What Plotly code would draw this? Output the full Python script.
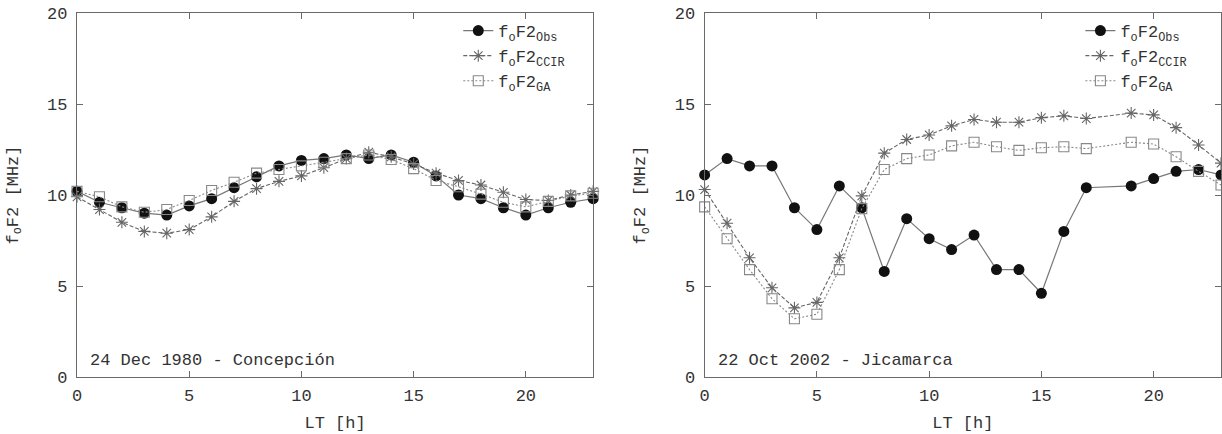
import plotly.graph_objects as go

hours = list(range(24))

# Left panel: 24 Dec 1980 - Concepción
left_obs = [10.2, 9.6, 9.3, 9.0, 8.9, 9.4, 9.8, 10.4, 11.0, 11.6, 11.9, 12.0,
            12.2, 12.0, 12.2, 11.8, 11.05, 10.0, 9.8, 9.3, 8.9, 9.3, 9.6, 9.8]
left_ccir = [9.9, 9.2, 8.5, 8.0, 7.9, 8.1, 8.8, 9.65, 10.35, 10.75, 11.05, 11.5,
             12.0, 12.35, 12.1, 11.7, 11.2, 10.8, 10.55, 10.15, 9.75, 9.7, 10.0, 10.2]
left_ga = [10.2, 9.9, 9.35, 9.05, 9.2, 9.7, 10.25, 10.7, 11.2, 11.4, 11.6, 11.8,
           12.0, 12.2, 11.95, 11.45, 10.8, 10.45, 10.05, 9.6, 9.35, 9.65, 9.95, 10.1]

# Right panel: 22 Oct 2002 - Jicamarca (no value at 18 LT)
right_obs = [11.1, 12.0, 11.6, 11.6, 9.3, 8.1, 10.5, 9.3, 5.8, 8.7, 7.6, 7.0,
             7.8, 5.9, 5.9, 4.6, 8.0, 10.4, None, 10.5, 10.9, 11.3, 11.4, 11.1]
right_ccir = [10.3, 8.45, 6.55, 4.9, 3.8, 4.1, 6.55, 9.95, 12.3, 13.05, 13.3, 13.8,
              14.15, 14.0, 14.0, 14.25, 14.35, 14.2, None, 14.5, 14.4, 13.7, 12.75, 11.75]
right_ga = [9.35, 7.6, 5.9, 4.3, 3.2, 3.45, 5.9, 9.25, 11.4, 12.0, 12.2, 12.7,
            12.9, 12.65, 12.45, 12.6, 12.65, 12.55, None, 12.9, 12.8, 12.1, 11.3, 10.55]

series_names = ["f<sub>o</sub>F2<sub>Obs</sub>",
                "f<sub>o</sub>F2<sub>CCIR</sub>",
                "f<sub>o</sub>F2<sub>GA</sub>"]
annotations_text = ["24 Dec 1980 - Concepción", "22 Oct 2002 - Jicamarca"]
x_title = "LT [h]"
y_title = "f<sub>o</sub>F2 [MHz]"
x_ticks = [0, 5, 10, 15, 20]
y_ticks = [0, 5, 10, 15, 20]

FONT = "Liberation Mono, Courier New, monospace"
TXT = "#333333"
AX = "#6a6a6a"

styles = [
    dict(line=dict(color="#777777", width=1.2, dash="solid"),
         marker=dict(symbol="circle", size=11, color="#111111",
                     line=dict(width=0))),
    dict(line=dict(color="#666666", width=1.1, dash="4px,2px"),
         marker=dict(symbol="asterisk-open", size=10,
                     line=dict(color="#444444", width=1.1))),
    dict(line=dict(color="#888888", width=1.1, dash="2px,2px"),
         marker=dict(symbol="square-open", size=10,
                     line=dict(color="#777777", width=1.1))),
]

fig = go.Figure()
panels = [
    ("x", "y", "legend", [left_obs, left_ccir, left_ga]),
    ("x2", "y2", "legend2", [right_obs, right_ccir, right_ga]),
]
for xa, ya, lg, data in panels:
    for name, vals, st in zip(series_names, data, styles):
        fig.add_trace(go.Scatter(
            x=hours, y=vals, name=name, mode="lines+markers",
            xaxis=xa, yaxis=ya, legend=lg, connectgaps=True,
            cliponaxis=False, line=st["line"], marker=st["marker"]))

W, H = 1222, 434
ml, mr, mt, mb = 76.7, 1.0, 13.0, 57.0
pw = W - ml - mr
d1 = (593.0 - ml) / pw
d2 = (704.5 - ml) / pw

axis_common = dict(
    showline=True, linecolor=AX, linewidth=1.2, mirror="ticks",
    ticks="inside", ticklen=6, tickcolor=AX, tickwidth=1.2,
    showgrid=False, zeroline=False, ticklabeloverflow="allow",
    tickfont=dict(family=FONT, size=17, color=TXT),
)
xaxis_common = dict(axis_common, range=[0, 23], tickvals=x_ticks,
                    ticklabelstandoff=2,
                    title=dict(text=x_title, font=dict(family=FONT, size=17, color=TXT),
                               standoff=11))
yaxis_common = dict(axis_common, range=[0, 20], tickvals=y_ticks,
                    ticklabelstandoff=5,
                    title=dict(text=y_title, font=dict(family=FONT, size=17, color=TXT),
                               standoff=24))

legend_common = dict(
    font=dict(family=FONT, size=17, color=TXT),
    bgcolor="rgba(0,0,0,0)", borderwidth=0,
    xanchor="right", yanchor="top", tracegroupgap=0,
)

fig.update_layout(
    width=W, height=H,
    margin=dict(l=ml, r=mr, t=mt, b=mb, autoexpand=False),
    paper_bgcolor="white", plot_bgcolor="white",
    showlegend=True,
    xaxis=dict(xaxis_common, domain=[0, d1], anchor="y"),
    yaxis=dict(yaxis_common, domain=[0, 1], anchor="x"),
    xaxis2=dict(xaxis_common, domain=[d2, 1], anchor="y2"),
    yaxis2=dict(yaxis_common, domain=[0, 1], anchor="x2"),
    legend=dict(legend_common, x=d1 - 0.02, y=1.0),
    legend2=dict(legend_common, x=0.975, y=1.0),
    annotations=[
        dict(text=annotations_text[0], xref="x domain", yref="y domain",
             x=0.022, y=0.045, xanchor="left", yanchor="middle", showarrow=False,
             font=dict(family=FONT, size=17, color=TXT)),
        dict(text=annotations_text[1], xref="x2 domain", yref="y2 domain",
             x=0.022, y=0.045, xanchor="left", yanchor="middle", showarrow=False,
             font=dict(family=FONT, size=17, color=TXT)),
    ],
)

# remove the default 8px page margin so the figure fills the window exactly
fig.write_html("out.html",
               config={"displayModeBar": False},
               post_script="document.body.style.margin='0px';")
